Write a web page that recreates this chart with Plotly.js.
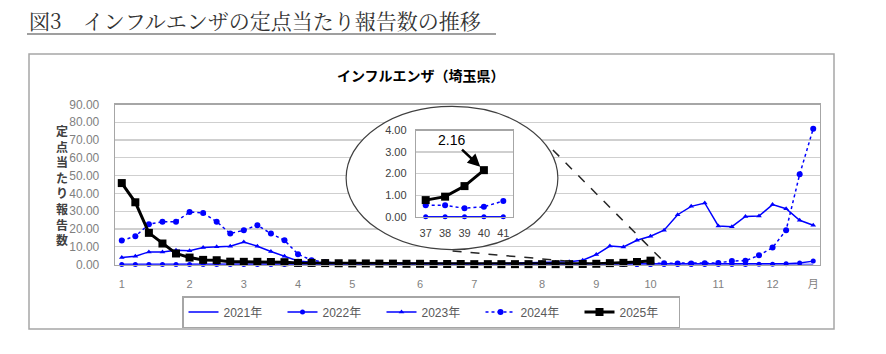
<!DOCTYPE html>
<html><head><meta charset="utf-8">
<script src="https://cdn.plot.ly/plotly-3.0.1.min.js"></script>
<style>html,body{margin:0;padding:0;background:#fff}#chart{width:886px;height:354px}</style>
</head><body><div id="chart"></div><script>
// ---- data ----
const weeks = [1,2,3,4,5,6,7,8,9,10,11,12,13,14,15,16,17,18,19,20,21,22,23,24,25,26,27,28,29,30,31,32,33,34,35,36,37,38,39,40,41,42,43,44,45,46,47,48,49,50,51,52];
const monthTickWeeks = [1,6,10,14,18,23,27,32,36,40,45,49,52];
const monthTickLabels = ['1','2','3','4','5','6','7','8','9','10','11','12','月'];
const seriesNames = ['2021年','2022年','2023年','2024年','2025年'];
const y2021 = [0,0,0,0,0,0,0,0,0,0,0,0,0,0,0,0,0,0,0,0,0,0,0,0,0,0,0,0,0,0,0,0,0,0,0,0,0,0,0,0,0,0,0,0,0,0,0,0,0,0,0,0];
const y2022 = [0,0,0,0,0,0,0,0,0,0,0,0,0,0,0,0,0,0,0,0,0,0,0,0,0,0,0,0,0,0,0,0,0,0,0,0,0,0,0,0,0,0,0,0,0,0,0,0.1,0.2,0.4,0.9,1.9];
const y2023 = [3.9,4.7,7.1,7.1,8.0,7.8,9.5,10.0,10.3,12.7,10.3,7.3,4.7,2.0,1.2,1.0,0.9,0.8,0.9,0.8,0.7,0.7,0.6,0.6,0.6,0.5,0.5,0.5,0.6,0.7,0.8,1.0,1.1,1.5,2.4,5.6,10.4,9.9,13.6,15.9,19.3,28.0,32.7,34.6,21.7,21.3,27.0,27.3,33.7,31.4,24.9,22.1];
const y2024 = [13.5,15.9,22.6,24.1,24.1,29.5,29.0,24.1,17.4,19.3,22.1,17.4,13.6,5.8,2.4,1.3,0.9,0.6,0.5,0.5,0.4,0.4,0.3,0.3,0.3,0.3,0.2,0.2,0.3,0.3,0.3,0.4,0.4,0.5,0.5,0.5,0.53,0.53,0.39,0.46,0.73,0.6,0.6,0.7,0.9,2.0,2.1,5.2,9.5,19.3,50.7,76.4];
const y2025 = [45.8,35.0,17.8,11.8,6.2,3.9,2.6,2.4,1.6,1.5,1.5,1.4,1.3,0.9,0.9,0.8,0.7,0.6,0.6,0.5,0.5,0.4,0.4,0.3,0.3,0.3,0.2,0.2,0.2,0.2,0.2,0.2,0.2,0.2,0.3,0.4,0.77,0.93,1.42,2.16];
const insetWeeks = [37,38,39,40,41];
const latestLabel = '2.16';
const yTitleChars = ['定','点','当','た','り','報','告','数'];

// ---- helpers ----
const W = 886, H = 354;
const px = v => v / W;
const py = v => 1 - v / H;
const BLUE = '#0000ff';
const insetSlice = arr => arr.slice(insetWeeks[0]-1, insetWeeks[insetWeeks.length-1]);

const styles = [
  {line:{color:BLUE,width:1.3}, mode:'lines'},
  {line:{color:BLUE,width:1.5}, mode:'lines+markers', marker:{symbol:'circle',size:5,color:BLUE}},
  {line:{color:BLUE,width:1.5}, mode:'lines+markers', marker:{symbol:'triangle-up',size:5,color:BLUE}},
  {line:{color:BLUE,width:1.5,dash:'dot'}, mode:'lines+markers', marker:{symbol:'circle',size:6,color:BLUE}},
  {line:{color:'#000000',width:3}, mode:'lines+markers', marker:{symbol:'square',size:8,color:'#000000'}}
];
const allY = [y2021,y2022,y2023,y2024,y2025];

const traces = [];
allY.forEach((ys,i)=>{
  traces.push(Object.assign({type:'scatter', x:weeks.slice(0,ys.length), y:ys, name:seriesNames[i],
    xaxis:'x', yaxis:'y', cliponaxis:false, hoverinfo:'skip'}, styles[i]));
});
// placeholder for ellipse layer
traces.push({type:'scatter', x:[0.5], y:[0.5], mode:'markers', marker:{opacity:0}, showlegend:false,
  hoverinfo:'skip', xaxis:'x2', yaxis:'y2'});
// inset traces (2021, 2022, 2024, 2025)
[0,1,3,4].forEach(i=>{
  const ys = insetSlice(allY[i]);
  traces.push(Object.assign({type:'scatter', x:insetWeeks.slice(0,ys.length), y:ys, name:seriesNames[i],
    xaxis:'x3', yaxis:'y3', showlegend:false, cliponaxis:false, hoverinfo:'skip'}, styles[i]));
});

const gray = '#a6a6a6';
const annotations = [
  {xref:'paper', yref:'paper', x:px(27), y:py(20), xanchor:'left', yanchor:'middle', showarrow:false,
   text:'図3　インフルエンザの定点当たり報告数の推移', font:{size:21,color:'#333333',family:'"Noto Serif CJK JP", "Noto Sans CJK JP", serif'}},
  {xref:'paper', yref:'paper', x:px(421), y:py(75), xanchor:'center', yanchor:'middle', showarrow:false,
   text:'<b>インフルエンザ（埼玉県）</b>', font:{size:14,color:'#000000',family:'"Noto Sans CJK JP", sans-serif'}},
  {xref:'paper', yref:'paper', x:px(62), y:py(185), xanchor:'center', yanchor:'middle', showarrow:false,
   text:'<b>' + yTitleChars.join('<br>') + '</b>', font:{size:12,color:'#404040',family:'"Noto Sans CJK JP", sans-serif'}},
  {xref:'x3', yref:'y3', x:insetWeeks[3], y:y2025[insetWeeks[3]-1], text:latestLabel, showarrow:true,
   arrowhead:2, arrowsize:1, arrowwidth:2.5, arrowcolor:'#000000', ax:-32, ay:-30, standoff:5,
   font:{size:14,color:'#000000'}}
];

const layout = {
  width:W, height:H, margin:{l:0,r:0,t:0,b:0},
  paper_bgcolor:'#fff', plot_bgcolor:'rgba(0,0,0,0)',
  font:{family:'"Liberation Sans", "Noto Sans CJK JP", sans-serif', color:'#595959'},
  showlegend:true,
  xaxis:{domain:[px(115),px(820)], range:[0.5,52.5], tickmode:'array', tickvals:monthTickWeeks, ticktext:monthTickLabels,
    showgrid:false, zeroline:false, showline:true, mirror:true, linecolor:gray, linewidth:1.3,
    ticks:'outside', ticklen:9, tickcolor:'rgba(0,0,0,0)', tickfont:{size:11,color:'#7f7f7f'}, anchor:'y', fixedrange:true},
  yaxis:{domain:[py(264.5),py(104.5)], range:[0,90], dtick:10, tickformat:'.2f',
    showgrid:true, gridcolor:'#cfcfcf', gridwidth:1.3, zeroline:false, showline:true, mirror:true, linecolor:gray, linewidth:1.3,
    ticks:'outside', ticklen:12, tickcolor:'rgba(0,0,0,0)', tickfont:{size:12,color:'#7f7f7f'}, anchor:'x', fixedrange:true},
  xaxis2:{domain:[px(344),px(560)], range:[-0.01,1.01], visible:false, anchor:'y2', fixedrange:true},
  yaxis2:{domain:[py(251),py(105)], range:[-0.01,1.01], visible:false, anchor:'x2', fixedrange:true},
  xaxis3:{domain:[px(416),px(513)], range:[36.5,41.5], tickmode:'array', tickvals:insetWeeks,
    showgrid:false, zeroline:false, showline:true, mirror:true, linecolor:gray, linewidth:1.2,
    ticks:'outside', ticklen:6, tickcolor:'rgba(0,0,0,0)', tickfont:{size:11,color:'#404040'}, anchor:'y3', fixedrange:true},
  yaxis3:{domain:[py(216.7),py(130.5)], range:[0,4], dtick:1, tickformat:'.2f',
    showgrid:true, gridcolor:'#cfcfcf', gridwidth:1.2, zeroline:false, showline:true, mirror:true, linecolor:gray, linewidth:1.2,
    ticks:'outside', ticklen:6, tickcolor:'rgba(0,0,0,0)', tickfont:{size:11,color:'#404040'}, anchor:'x3', fixedrange:true},
  legend:{orientation:'h', x:px(182), y:py(296), xanchor:'left', yanchor:'top',
    bordercolor:gray, borderwidth:1.5, bgcolor:'#fff', font:{size:12,color:'#595959'},
    entrywidth:54, entrywidthmode:'pixels', traceorder:'normal', itemclick:false, itemdoubleclick:false},
  shapes:[
    {type:'rect', xref:'paper', yref:'paper', x0:px(29), x1:px(834), y0:py(329), y1:py(54), line:{color:gray,width:1.5}, layer:'below'},
    {type:'line', xref:'paper', yref:'paper', x0:px(27), x1:px(496), y0:py(34), y1:py(34), line:{color:'#7f7f7f',width:1.5}},
    {type:'circle', xref:'x2', yref:'y2', x0:0, x1:1, y0:0, y1:1, fillcolor:'#ffffff', line:{color:'#404040',width:1.2}, layer:'below'},
    {type:'line', xref:'x', yref:'y', x0:32.8, y0:64.4, x1:41.1, y1:0.7, line:{color:'#262626',width:1.5,dash:'dash'}, layer:'above'},
    {type:'line', xref:'x', yref:'y', x0:25.4, y0:7.6, x1:34.6, y1:1.4, line:{color:'#262626',width:1.5,dash:'dash'}, layer:'above'}
  ],
  annotations:annotations
};
Plotly.newPlot('chart', traces, layout, {staticPlot:true, displayModeBar:false});
</script></body></html>
